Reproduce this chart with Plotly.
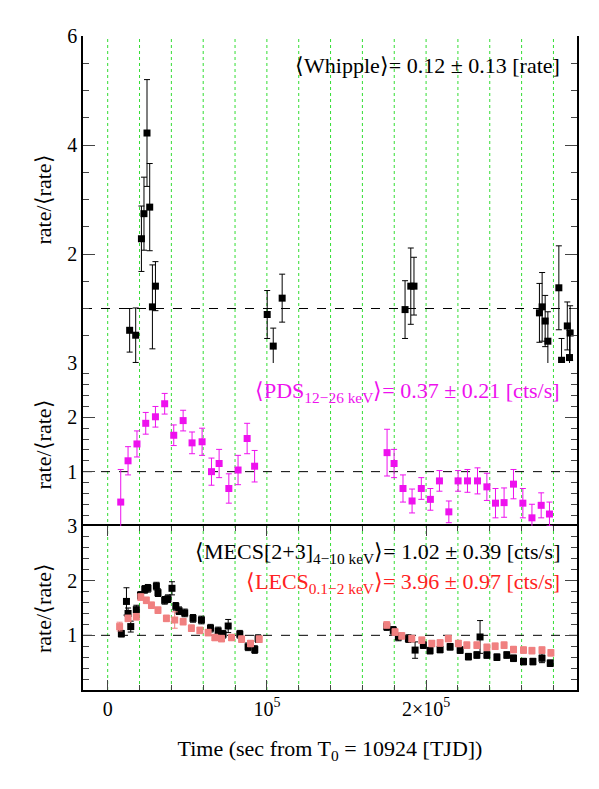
import plotly.graph_objects as go

# time in ks from T0, values rate/<rate>
whipple_t = [13.8, 17.6, 21.2, 22.8, 24.7, 26.4, 28.1, 30.0, 100.2, 104.0, 109.6,
             186.8, 190.4, 192.4, 271.2, 272.9, 274.8, 276.5, 283.4, 285.1, 288.7, 290.5, 290.1]
whipple_r = [0.60, 0.51, 2.28, 2.74, 4.22, 2.86, 1.03, 1.41, 0.89, 0.31, 1.19,
             0.98, 1.41, 1.41, 0.92, 1.03, 0.77, 0.40, 1.38, 0.05, 0.68, 0.55, 0.10]
whipple_e = [0.40, 0.50, 0.60, 0.67, 0.98, 0.80, 0.77, 0.45, 0.44, 0.33, 0.44,
             0.53, 0.70, 0.53, 0.54, 0.63, 0.47, 0.54, 0.77, 0.40, 0.44, 0.50, 0.50]

pds_t = [8.2, 12.8, 18.4, 23.9, 30.0, 35.8, 41.5, 47.4, 53.0, 59.3, 65.2, 70.0, 76.1, 81.9,
         87.6, 92.3, 175.5, 179.9, 185.5, 191.2, 197.0, 202.7, 208.4, 214.3, 220.1, 226.0,
         232.3, 238.2, 243.6, 249.0, 254.9, 260.8, 266.5, 272.3, 277.5]
pds_r = [0.44, 1.20, 1.51, 1.89, 2.01, 2.25, 1.67, 1.94, 1.53, 1.55, 1.00, 1.15, 0.69, 1.03,
         1.61, 1.10, 1.35, 1.15, 0.69, 0.46, 0.69, 0.49, 0.83, 0.26, 0.83, 0.83,
         0.83, 0.72, 0.42, 0.43, 0.77, 0.42, 0.15, 0.38, 0.22]
pds_e = [0.60, 0.26, 0.24, 0.20, 0.19, 0.19, 0.19, 0.19, 0.20, 0.25, 0.25, 0.26, 0.27, 0.27,
         0.28, 0.29, 0.43, 0.26, 0.25, 0.22, 0.20, 0.20, 0.19, 0.20, 0.19, 0.21,
         0.24, 0.25, 0.27, 0.27, 0.27, 0.27, 0.25, 0.23, 0.22]

mecs_t = [8.6, 11.8, 12.8, 14.5, 18.0, 20.6, 23.3, 25.3, 30.6, 31.6, 35.8, 37.9, 40.4, 42.8,
          44.8, 48.4, 53.6, 58.9, 64.6, 69.4, 72.5, 75.7, 83.0, 88.2, 92.4, 94.5,
          175.3, 179.4, 182.6, 188.9, 193.1, 198.3, 202.5, 208.8, 215.1, 221.4, 226.6,
          231.9, 233.9, 238.2, 244.5, 250.7, 254.9, 261.2, 267.1, 272.8, 278.0]
mecs_r = [1.03, 1.62, 1.40, 1.16, 1.47, 1.73, 1.84, 1.86, 1.90, 1.78, 1.64, 1.67, 1.86, 1.53,
          1.45, 1.41, 1.31, 1.28, 1.13, 1.08, 1.02, 1.17, 1.02, 0.79, 0.74, 0.94,
          1.16, 1.09, 0.97, 0.94, 0.73, 0.82, 0.72, 0.74, 0.79, 0.73, 0.61,
          0.64, 0.97, 0.64, 0.60, 0.64, 0.58, 0.52, 0.52, 0.58, 0.49]
mecs_e = [0.06, 0.25, 0.10, 0.10, 0.08, 0.07, 0.07, 0.07, 0.07, 0.07, 0.07, 0.07, 0.12, 0.07,
          0.07, 0.07, 0.07, 0.07, 0.07, 0.07, 0.07, 0.12, 0.07, 0.07, 0.07, 0.07,
          0.07, 0.07, 0.07, 0.07, 0.15, 0.06, 0.06, 0.06, 0.06, 0.06, 0.06,
          0.06, 0.30, 0.06, 0.06, 0.06, 0.06, 0.06, 0.06, 0.08, 0.06]

lecs_t = [7.5, 12.8, 18.0, 20.8, 24.3, 27.5, 31.6, 36.9, 42.1, 47.4, 52.6, 57.9, 63.1, 67.3,
          71.5, 77.8, 84.1, 89.7, 95.2, 175.3, 180.5, 184.7, 191.0, 197.3, 203.6, 208.8,
          214.0, 220.3, 225.6, 231.9, 238.2, 243.4, 249.0, 254.9, 261.2, 266.5, 272.8, 278.4]
lecs_r = [1.16, 1.31, 1.34, 1.70, 1.64, 1.55, 1.46, 1.31, 1.28, 1.25, 1.13, 1.09, 1.05, 0.96,
          0.94, 0.96, 0.93, 0.85, 0.93, 1.19, 1.06, 0.99, 0.94, 0.91, 0.85, 0.86,
          0.94, 0.85, 0.82, 0.82, 0.78, 0.80, 0.82, 0.74, 0.73, 0.72, 0.73, 0.68]
lecs_e = [0.08, 0.06, 0.06, 0.06, 0.06, 0.06, 0.06, 0.06, 0.15, 0.06, 0.06, 0.06, 0.06, 0.06,
          0.06, 0.06, 0.06, 0.06, 0.06, 0.06, 0.06, 0.06, 0.06, 0.06, 0.06, 0.06,
          0.06, 0.06, 0.06, 0.06, 0.06, 0.06, 0.06, 0.06, 0.06, 0.06, 0.06, 0.06]

grid_t = [0, 20, 40, 60, 80, 100, 120, 140, 160, 180, 200, 220, 240, 260, 280]

FONT = "Liberation Serif"
PINK = "#f08080"


def series(t, r, e, color, yaxis, size=7):
    return go.Scatter(
        x=[v * 1000 for v in t], y=r, yaxis=yaxis, mode="markers",
        marker=dict(symbol="square", size=size, color=color),
        error_y=dict(type="data", array=e, color=color, thickness=1, width=3),
        showlegend=False)


fig = go.Figure()
fig.add_trace(series(whipple_t, whipple_r, whipple_e, "black", "y3"))
fig.add_trace(series(pds_t, pds_r, pds_e, "#ee11ee", "y2"))
fig.add_trace(series(mecs_t, mecs_r, mecs_e, "black", "y"))
fig.add_trace(series(lecs_t, lecs_r, lecs_e, PINK, "y"))

for g in grid_t:
    fig.add_shape(type="line", xref="x", yref="paper", x0=g * 1000, x1=g * 1000, y0=0, y1=1,
                  line=dict(color="#33dd33", width=1, dash="dot"), layer="below")
for yr in ["y", "y2", "y3"]:
    fig.add_shape(type="line", xref="paper", yref=yr, x0=0, x1=1, y0=1, y1=1,
                  line=dict(color="black", width=1, dash="dash"), layer="below")

axis_common = dict(ticks="inside", mirror="ticks", showline=True, linecolor="black",
                   linewidth=1.5, showgrid=False, zeroline=False, automargin=False,
                   tickfont=dict(family=FONT, size=20, color="black"))
title_font = dict(family=FONT, size=22, color="black")

fig.update_layout(
    width=599, height=789, plot_bgcolor="white", paper_bgcolor="white",
    margin=dict(l=75, r=30, t=28, b=107),
    xaxis=dict(range=[-15500, 294800], tickvals=[0, 100000, 200000],
               ticktext=["0", "10<sup>5</sup>", "2×10<sup>5</sup>"], ticklen=10,
               minor=dict(dtick=20000, tick0=0, ticks="inside", ticklen=5, showgrid=False),
               title=dict(text="Time (sec from T<sub>0</sub> = 10924 [TJD])", font=title_font,
                          standoff=22),
               **axis_common),
    yaxis=dict(domain=[0, 0.2508], range=[0, 3], tickvals=[1, 2, 3], ticklen=12,
               minor=dict(dtick=0.2, ticks="inside", ticklen=6),
               title=dict(text="rate/⟨rate⟩", font=title_font, standoff=10), **axis_common),
    yaxis2=dict(domain=[0.2508, 0.5], range=[0, 3], tickvals=[1, 2, 3], ticklen=12,
                minor=dict(dtick=0.2, ticks="inside", ticklen=6),
                title=dict(text="rate/⟨rate⟩", font=title_font, standoff=10), **axis_common),
    yaxis3=dict(domain=[0.5, 1], range=[0, 6], tickvals=[2, 4, 6], ticklen=12,
                minor=dict(dtick=0.5, ticks="inside", ticklen=6),
                title=dict(text="rate/⟨rate⟩", font=title_font, standoff=10), **axis_common),
)

ann_font = dict(family=FONT, size=22)
fig.add_annotation(xref="paper", yref="paper", x=0.97, y=0.955, xanchor="right",
                   yanchor="middle", showarrow=False, text="⟨Whipple⟩= 0.12 ± 0.13 [rate]",
                   font=dict(color="black", **ann_font))
fig.add_annotation(xref="paper", yref="paper", x=0.97, y=0.455, xanchor="right",
                   yanchor="middle", showarrow=False,
                   text="⟨PDS<sub>12−26 keV</sub>⟩= 0.37 ± 0.21 [cts/s]",
                   font=dict(color="#ee11ee", **ann_font))
fig.add_annotation(xref="paper", yref="paper", x=0.97, y=0.21, xanchor="right",
                   yanchor="middle", showarrow=False,
                   text="⟨MECS[2+3]<sub>4−10 keV</sub>⟩= 1.02 ± 0.39 [cts/s]",
                   font=dict(color="black", **ann_font))
fig.add_annotation(xref="paper", yref="paper", x=0.97, y=0.163, xanchor="right",
                   yanchor="middle", showarrow=False,
                   text="⟨LECS<sub>0.1−2 keV</sub>⟩= 3.96 ± 0.97 [cts/s]",
                   font=dict(color="#ff2222", **ann_font))

fig.write_html("out.html")
